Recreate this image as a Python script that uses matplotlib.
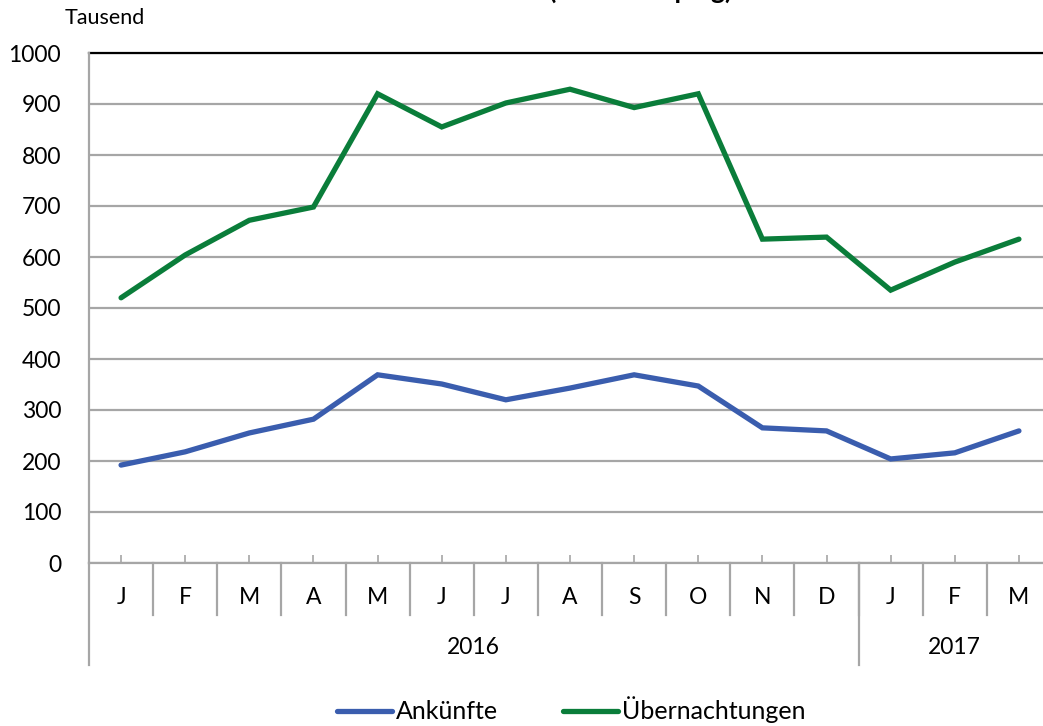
#!/usr/bin/env python3

import matplotlib.pyplot as plt
import matplotlib.transforms as mtransforms
import numpy as np

plt.rcParams['font.family'] = ['Lato', 'DejaVu Sans']

months = ["J", "F", "M", "A", "M", "J", "J", "A", "S", "O", "N", "D", "J", "F", "M"]
years = ["2016", "2017"]
months_per_year = [12, 3]
ankuenfte = [192, 218, 255, 282, 369, 351, 320, 343, 369, 347, 265, 259, 204, 216, 259]
uebernachtungen = [520, 604, 672, 698, 920, 855, 902, 929, 893, 920, 635, 639, 535, 590, 635]

grid_color = "#A6A6A6"
blue = "#3A5DAE"
green = "#0A7D3A"


def plot_chart():
    fig = plt.figure(figsize=(10.43, 7.26), dpi=100)
    ax = fig.add_axes([89 / 1043, 1 - 563 / 726, 962 / 1043, 510 / 726])

    x = np.arange(len(months))
    ax.plot(x, ankuenfte, color=blue, lw=3.8, solid_capstyle='round',
            solid_joinstyle='miter', label="Ankünfte", zorder=3)
    ax.plot(x, uebernachtungen, color=green, lw=3.8, solid_capstyle='round',
            solid_joinstyle='miter', label="Übernachtungen", zorder=3)

    ax.set_xlim(-0.5, len(months) - 0.5)
    ax.set_ylim(0, 1000)
    ax.set_yticks(np.arange(0, 1001, 100))
    ax.tick_params(axis='y', length=0, pad=20, labelsize=16.5)
    ax.yaxis.grid(True, color=grid_color, lw=1.6)
    ax.set_axisbelow(True)
    ax.axhline(1000, color="black", lw=1.6, zorder=2, clip_on=False)

    for s in ['top', 'right']:
        ax.spines[s].set_visible(False)
    ax.spines['left'].set_color(grid_color)
    ax.spines['left'].set_linewidth(1.6)
    ax.spines['bottom'].set_color(grid_color)
    ax.spines['bottom'].set_linewidth(1.6)

    ax.set_xticks(x)
    ax.set_xticklabels([])
    ax.tick_params(axis='x', direction='in', length=6, width=1.2, color=grid_color)

    trans = mtransforms.blended_transform_factory(ax.transData, ax.transAxes)
    px = 1 / 510.0
    for i, m in enumerate(months):
        ax.text(i, -34 * px, m, transform=trans, ha='center', va='center', fontsize=16.5)
    # separators between months
    for i in range(1, len(months)):
        ax.plot([i - 0.5, i - 0.5], [0, -52 * px], transform=trans, color=grid_color,
                lw=1.6, clip_on=False)
    # year separators and labels
    start = 0
    bounds = [-0.5]
    for y, n in zip(years, months_per_year):
        left, right = start - 0.5, start + n - 0.5
        ax.text((left + right) / 2, -84 * px, y, transform=trans, ha='center',
                va='center', fontsize=16.5)
        bounds.append(right)
        start += n
    for b in bounds[:-1]:
        ax.plot([b, b], [0, -102 * px], transform=trans, color=grid_color,
                lw=1.6, clip_on=False)

    fig.text(65 / 1043, 1 - 18 / 726, "Tausend", ha='left', va='center', fontsize=15.5)
    # title sits mostly above the image, only its descenders show
    fig.text(641 / 1043, 1 + 1 / 726, "(ohne Camping)", ha='center', va='baseline',
             fontsize=19, fontweight='bold')

    fig.legend(loc='center', bbox_to_anchor=(571 / 1043, 1 - 710 / 726), ncol=2,
               frameon=False, fontsize=18, handlelength=2.2, handletextpad=0.15,
               columnspacing=2.6)

    plt.savefig('out.png', dpi=100)
    plt.clf()


if __name__ == "__main__":
    plot_chart()
